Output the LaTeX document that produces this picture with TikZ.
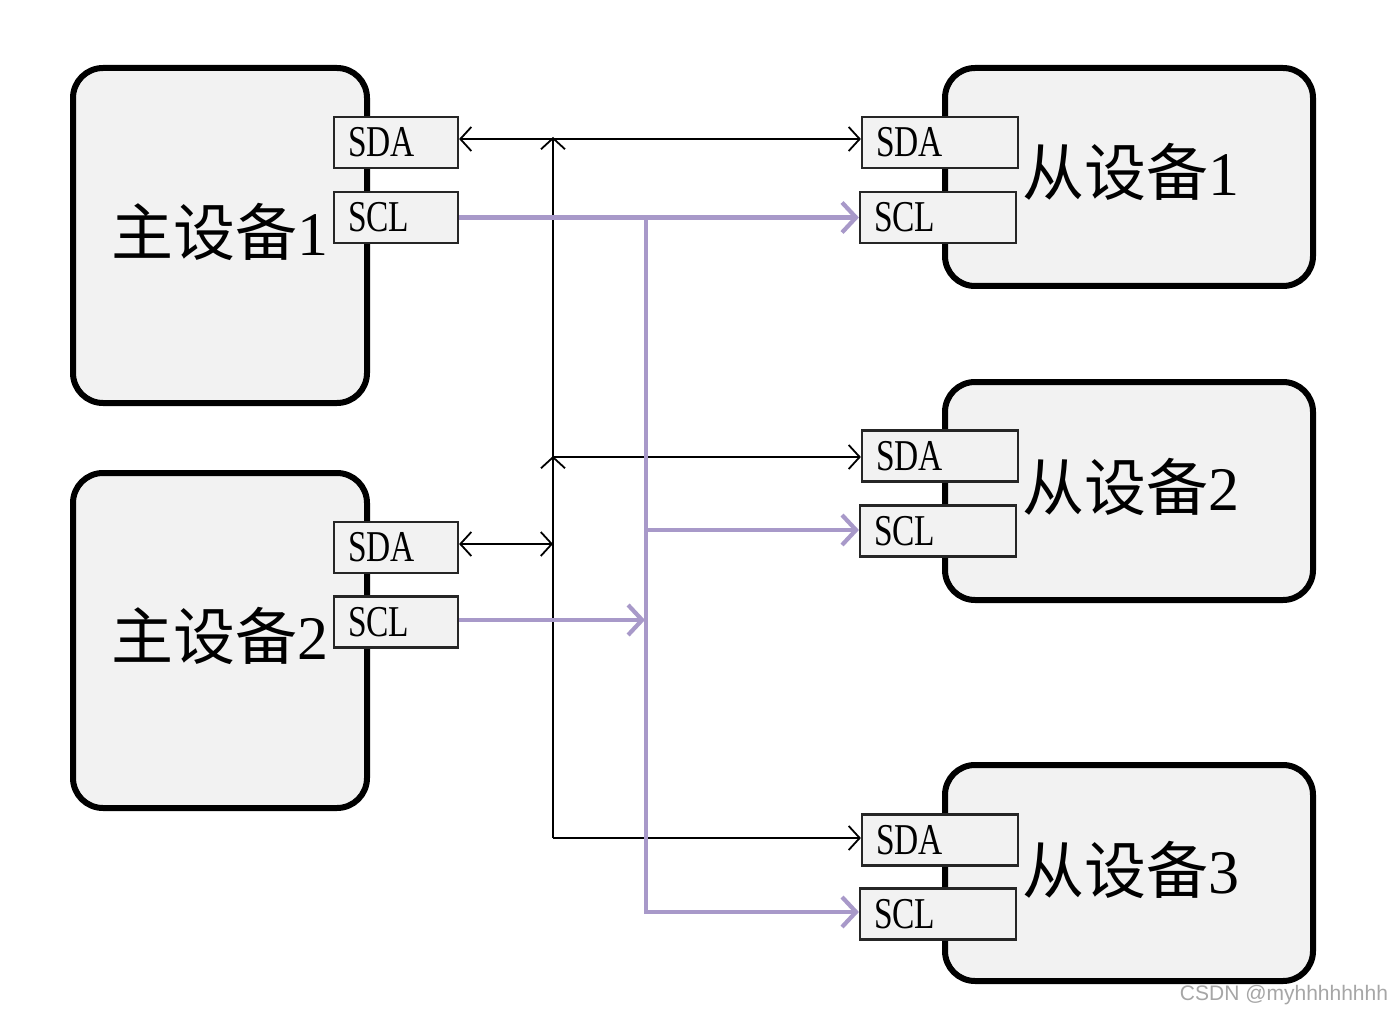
\documentclass[tikz,border=0pt]{standalone}
\usepackage{fontspec}
\usepackage{graphicx}
\setmainfont{Liberation Serif}
\newfontfamily\cjk{Noto Sans CJK SC}
\newfontfamily\wm{Liberation Sans}
\usetikzlibrary{arrows.meta}
\definecolor{boxfill}{HTML}{F2F2F2}
\definecolor{sclcol}{HTML}{A899C9}
\begin{document}
\begin{tikzpicture}[x=1pt,y=-1pt,
  device/.style={draw=black,line width=6pt,fill=boxfill,rounded corners=30pt,inner sep=0pt},
  port/.style={draw=black!85,line width=2.2pt,fill=boxfill,minimum height=51pt,text width=96pt,inner xsep=14pt,inner ysep=0pt,align=left,font=\fontsize{44}{44}\selectfont},
  devlabel/.style={font=\fontsize{62}{62}\selectfont,inner sep=0pt},
  sdaline/.style={draw=black,line width=1.8pt},
  sclline/.style={draw=sclcol,line width=4.2pt},
  barb/.style={-{Straight Barb[length=11pt,width=24pt,line width=1.8pt]}},
  barbs/.style={{Straight Barb[length=11pt,width=24pt,line width=1.8pt]}-{Straight Barb[length=11pt,width=24pt,line width=1.8pt]}},
  pbarb/.style={-{Straight Barb[length=14pt,width=30pt,line width=4.2pt]}}
]
\useasboundingbox[fill=white] (0,0) rectangle (1400,1016);
% devices
\node[device,minimum width=294pt,minimum height=335pt] (m1) at (220,235.5) {};
\node[device,minimum width=294pt,minimum height=335pt] (m2) at (220,640.5) {};
\node[device,minimum width=368pt,minimum height=218pt] (s1) at (1129,177) {};
\node[device,minimum width=368pt,minimum height=218pt] (s2) at (1129,491) {};
\node[device,minimum width=368pt,minimum height=216pt] (s3) at (1129,873) {};
% labels
\node[devlabel] (m1t) at (220,232) {{\cjk 主设备}1};
\node[devlabel] (m2t) at (220,636) {{\cjk 主设备}2};
\node[devlabel] (s1t) at (1131,172) {{\cjk 从设备}1};
\node[devlabel] (s2t) at (1131,487) {{\cjk 从设备}2};
\node[devlabel] (s3t) at (1131,870) {{\cjk 从设备}3};
% ports
\node[port] (m1sda) at (396,142.5) {\scalebox{0.76}[1]{SDA}};
\node[port] (m1scl) at (396,217.5) {\scalebox{0.76}[1]{SCL}};
\node[port] (m2sda) at (396,547.5) {\scalebox{0.76}[1]{SDA}};
\node[port] (m2scl) at (396,622) {\scalebox{0.76}[1]{SCL}};
\node[port,text width=128pt] (s1sda) at (940,142.5) {\scalebox{0.76}[1]{SDA}};
\node[port,text width=128pt] (s1scl) at (938,217.5) {\scalebox{0.76}[1]{SCL}};
\node[port,text width=128pt] (s2sda) at (940,456) {\scalebox{0.76}[1]{SDA}};
\node[port,text width=128pt] (s2scl) at (938,531) {\scalebox{0.76}[1]{SCL}};
\node[port,text width=128pt] (s3sda) at (940,840) {\scalebox{0.76}[1]{SDA}};
\node[port,text width=128pt] (s3scl) at (938,914) {\scalebox{0.76}[1]{SCL}};
% SDA bus
\coordinate (sdaTop) at (553,139);
\coordinate (sdaMid) at (553,457);
\coordinate (sdaBot) at (553,838);
\draw[sdaline,barbs] (m1sda.east |- sdaTop) -- (s1sda.west |- sdaTop);
\draw[sdaline,barb] (sdaBot) -- ([yshift=1pt]sdaMid);
\draw[sdaline,barb] (sdaMid) -- ([yshift=2pt]sdaTop);
\draw[sdaline,barb] (sdaMid) -- (sdaMid -| s2sda.west);
\draw[sdaline,barb] (sdaBot) -- (sdaBot -| s3sda.west);
\draw[sdaline,barbs] (m2sda.east |- 0,544) -- (sdaMid |- 0,544);
% SCL bus
\coordinate (sclTop) at (646,217);
\coordinate (sclMid) at (646,530);
\coordinate (sclBot) at (646,912);
\draw[sclline,pbarb] (m1scl.east) -- (s1scl.west);
\draw[sclline,pbarb] (sclTop) -- (sclBot) -- (sclBot -| s3scl.west);
\draw[sclline,pbarb] (sclMid) -- (sclMid -| s2scl.west);
\draw[sclline,pbarb] (m2scl.east |- 0,620) -- ([xshift=-1pt]sclTop |- 0,620);
% watermark
\node[font=\wm\fontsize{21}{21}\selectfont,text=black!35,inner sep=0pt] (wm) at (1284,995) {CSDN @myhhhhhhhh};
\end{tikzpicture}
\end{document}
